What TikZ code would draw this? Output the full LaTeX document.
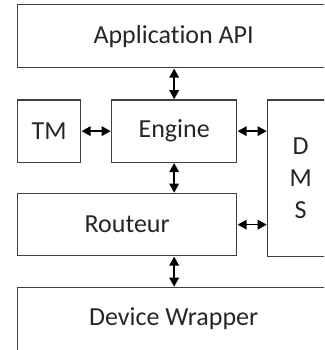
\documentclass[tikz,border=0pt]{standalone}
\usepackage{fontspec}
\setmainfont{Carlito}[Ligatures={NoCommon}]
\usetikzlibrary{arrows.meta}
\definecolor{boxgray}{HTML}{404040}
\definecolor{textgray}{HTML}{262626}
\begin{document}
\begin{tikzpicture}[x=1pt,y=-1pt,
  box/.style={draw=boxgray, line width=1.3pt, fill=white, text=textgray,
    font=\fontsize{26}{31.6}\selectfont, inner sep=0pt, anchor=north west, align=center},
  link/.style={{Triangle[length=9pt,width=9.5pt]}-{Triangle[length=9pt,width=9.5pt]}, line width=1.6pt, black, shorten <=0.3pt, shorten >=0.3pt}]
\useasboundingbox (0,0) rectangle (324,350);
\clip (0,0) rectangle (324,350);
\node[box, minimum width=312pt, minimum height=63pt] (api) at (17,4) {Application API};
\node[box, minimum width=63pt, minimum height=62pt] (tm) at (17,99.5) {TM};
\node[box, minimum width=125pt, minimum height=62pt] (engine) at (111,99.5) {Engine};
\node[box, minimum width=66pt, minimum height=156pt] (dms) at (267,99.5) {D\\M\\S};
\node[box, minimum width=219pt, minimum height=62pt] (routeur) at (17,193) {Routeur};
\node[box, minimum width=312pt, minimum height=62.5pt] (dev) at (17,287) {Device Wrapper};
\draw[link] (api.south -| engine.north) -- (engine.north);
\draw[link] (tm.east) -- (engine.west);
\draw[link] (engine.east) -- (engine.east -| dms.west);
\draw[link] (engine.south) -- (engine.south |- routeur.north);
\draw[link] (routeur.east) -- (routeur.east -| dms.west);
\draw[link] (routeur.south -| engine.south) -- (dev.north -| engine.south);
\end{tikzpicture}
\end{document}
